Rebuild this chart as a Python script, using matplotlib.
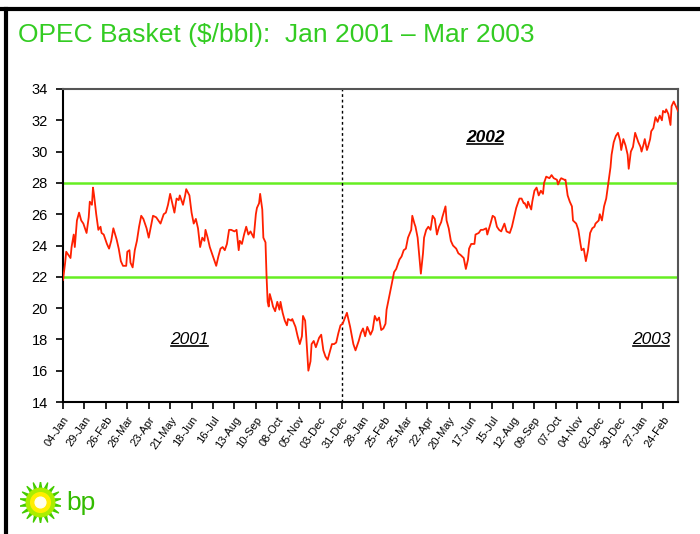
import matplotlib.pyplot as plt
from matplotlib.lines import Line2D

# trading-day index from 04-Jan-2001 and OPEC basket price ($/bbl)
days = [0, 2, 3, 7, 8, 10, 11, 13, 15, 17, 19, 22, 24, 25, 27, 28, 29, 31, 33, 35,
        36, 38, 41, 43, 45, 47, 50, 52, 54, 56, 59, 60, 62, 63, 65, 67, 69, 71, 73, 75,
        78, 80, 82, 84, 87, 89, 91, 94, 96, 98, 100, 102, 104, 106, 108, 109, 112, 114, 115, 118,
        120, 122, 124, 126, 128, 130, 132, 133, 135, 137, 139, 141, 143, 145, 147, 149, 151, 153, 155, 157,
        160, 162, 164, 165, 167, 169, 171, 173, 175, 178, 180, 181, 183, 184, 186, 187, 189, 190, 191, 192,
        193, 195, 196, 198, 200, 202, 203, 205, 207, 209, 210, 213, 214, 217, 219, 221, 223, 224, 226, 227,
        229, 231, 232, 234, 236, 237, 239, 241, 243, 245, 247, 249, 251, 253, 255, 257, 259, 261, 265, 268,
        271, 273, 276, 278, 280, 282, 284, 287, 289, 291, 293, 295, 297, 299, 301, 302, 305, 307, 309, 311,
        314, 316, 318, 320, 322, 325, 326, 328, 329, 331, 333, 334, 336, 337, 339, 341, 343, 345, 347, 349,
        351, 353, 354, 357, 358, 360, 362, 364, 367, 369, 371, 374, 376, 378, 379, 381, 384, 385, 388, 390,
        392, 395, 396, 399, 401, 403, 405, 407, 409, 412, 414, 417, 419, 421, 423, 426, 428, 430, 431, 433,
        434, 437, 438, 440, 442, 444, 446, 448, 449, 451, 454, 456, 458, 461, 462, 464, 465, 468, 469, 471,
        473, 475, 476, 479, 481, 483, 484, 486, 488, 490, 492, 494, 496, 497, 500, 501, 503, 505, 507, 509,
        511, 512, 514, 516, 518, 520, 521, 523, 525, 527, 528, 530, 532, 534, 535, 537, 539, 540, 542, 543,
        545, 546, 548, 549, 551, 553, 555, 557, 559, 560, 562, 563, 565, 567, 568, 570, 572, 574]
price = [21.8, 22.9, 23.6, 23.2, 23.9, 24.7, 23.9, 25.6, 26.1, 25.6, 25.4, 24.8, 25.8, 26.8, 26.6, 27.7, 27.2, 26.0, 25.0, 25.2,
         24.8, 24.7, 24.1, 23.8, 24.3, 25.1, 24.4, 23.8, 23.0, 22.7, 22.7, 23.6, 23.7, 22.9, 22.6, 23.7, 24.3, 25.2, 25.9, 25.7,
         25.1, 24.5, 25.2, 25.9, 25.8, 25.6, 25.4, 26.0, 26.1, 26.6, 27.3, 26.7, 26.1, 27.0, 26.9, 27.2, 26.6, 27.2, 27.6, 27.2,
         26.1, 25.4, 25.7, 25.1, 23.9, 24.5, 24.3, 25.0, 24.5, 23.9, 23.5, 23.1, 22.7, 23.3, 23.8, 23.9, 23.7, 24.1, 25.0, 25.0,
         24.9, 25.0, 23.7, 24.3, 24.1, 24.7, 25.2, 24.7, 24.9, 24.5, 26.0, 26.4, 26.7, 27.3, 26.3, 24.5, 24.2, 22.0, 20.4, 20.1,
         20.9, 20.4, 20.1, 19.8, 20.4, 19.9, 20.4, 19.7, 19.2, 18.9, 19.3, 19.2, 19.3, 18.8, 18.2, 17.7, 18.2, 19.5, 19.2, 18.2,
         16.0, 16.6, 17.7, 17.9, 17.5, 17.7, 18.1, 18.3, 17.3, 16.9, 16.7, 17.2, 17.7, 17.7, 17.8, 18.4, 18.9, 19.0, 19.7, 18.8,
         17.7, 17.3, 17.9, 18.4, 18.7, 18.2, 18.8, 18.3, 18.6, 19.5, 19.2, 19.4, 18.6, 18.7, 19.0, 19.9, 20.9, 21.6, 22.3, 22.5,
         23.1, 23.3, 23.7, 23.8, 24.5, 25.0, 25.9, 25.4, 25.2, 24.5, 23.0, 22.2, 23.5, 24.5, 25.0, 25.2, 25.0, 25.9, 25.7, 24.7,
         25.2, 25.5, 25.8, 26.5, 25.6, 25.1, 24.3, 24.0, 23.8, 23.5, 23.4, 23.2, 22.5, 23.1, 23.8, 24.1, 24.1, 24.7, 24.8, 25.0,
         25.0, 25.1, 24.7, 25.4, 25.9, 25.8, 25.2, 25.0, 24.9, 25.4, 24.9, 24.8, 25.2, 25.8, 26.4, 27.0, 27.0, 26.7, 26.7, 26.4,
         26.8, 26.3, 26.8, 27.5, 27.7, 27.2, 27.5, 27.3, 28.0, 28.4, 28.3, 28.5, 28.3, 28.2, 27.9, 28.2, 28.3, 28.2, 28.2, 27.2,
         26.8, 26.5, 25.6, 25.4, 25.0, 24.1, 23.7, 23.8, 23.0, 23.7, 24.8, 25.1, 25.2, 25.4, 25.6, 26.0, 25.6, 26.5, 27.0, 28.0,
         29.0, 29.8, 30.6, 31.0, 31.2, 30.7, 30.1, 30.8, 30.4, 29.8, 28.9, 30.0, 30.3, 31.2, 31.0, 30.6, 30.3, 30.0, 30.5, 30.8,
         30.1, 30.3, 30.8, 31.3, 31.5, 32.2, 31.9, 32.3, 32.0, 32.6, 32.5, 32.7, 32.4, 31.7, 32.9, 33.2, 32.9, 32.6]

tick_days = list(range(0, 561, 20))
tick_labels = ['04-Jan', '29-Jan', '26-Feb', '26-Mar', '23-Apr', '21-May', '18-Jun', '16-Jul',
               '13-Aug', '10-Sep', '08-Oct', '05-Nov', '03-Dec', '31-Dec', '28-Jan', '25-Feb',
               '25-Mar', '22-Apr', '20-May', '17-Jun', '15-Jul', '12-Aug', '09-Sep', '07-Oct',
               '04-Nov', '02-Dec', '30-Dec', '27-Jan', '24-Feb']
band = [22, 28]
year_end = 260
years = ['2001', '2002', '2003']
year_x = [118, 394, 549]
year_y = [18.0, 30.9, 18.0]

plt.rcParams['font.family'] = ['Liberation Sans', 'DejaVu Sans']

fig = plt.figure(figsize=(7, 5.34), dpi=100)
ax = fig.add_axes([63 / 700, 1 - 402 / 534, 615 / 700, 313 / 534])

ax.plot(days, price, color='#ff2000', lw=1.3, zorder=3)
for b in band:
    ax.axhline(b, color='#66ee22', lw=1.8, zorder=2)
ax.axvline(year_end, color='black', lw=1, ls=(0, (2, 2)), zorder=2)

ax.set_xlim(0, 574)
ax.set_ylim(14, 34)
ax.set_yticks(range(14, 35, 2))
ax.set_xticks(tick_days)
ax.set_xticklabels(tick_labels, rotation=55, ha='right', va='top',
                   rotation_mode='anchor', fontsize=8)
ax.tick_params(axis='y', labelsize=10.5, length=5, width=1.2, pad=6)
ax.tick_params(axis='x', length=5, width=1.2, pad=4)

for s in ['left', 'bottom']:
    ax.spines[s].set_linewidth(1.5)
for s in ['top', 'right']:
    ax.spines[s].set_color('#555555')
    ax.spines[s].set_linewidth(1.5)

# italic underlined year labels
for i, (lab, x0, y0) in enumerate(zip(years, year_x, year_y)):
    ax.text(x0, y0, lab, fontsize=12.5, style='italic', ha='center', va='center',
            fontweight='bold' if i == 1 else 'normal')
    ax.plot([x0 - 17, x0 + 17], [y0 - 0.42, y0 - 0.42], color='black', lw=1.2)

fig.text(18 / 700, 1 - 35 / 534, 'OPEC Basket ($/bbl):  Jan 2001 \u2013 Mar 2003',
         color='#33cc22', fontsize=19, ha='left', va='center')

# border lines
fig.add_artist(Line2D([0, 1], [1 - 9 / 534, 1 - 9 / 534], color='black', lw=3))
fig.add_artist(Line2D([6 / 700, 6 / 700], [0, 1 - 9 / 534], color='black', lw=3))

# bp helios logo
lax = fig.add_axes([20 / 700, 1 - 522 / 534, 40 / 700, 40 / 534])
lax.set_xlim(-1, 1)
lax.set_ylim(-1, 1)
lax.axis('off')
lax.scatter([0], [0], s=900, marker=(18, 1, 0), color='#44cc00')
lax.scatter([0], [0], s=420, marker='o', color='#aaee00')
lax.scatter([0], [0], s=200, marker='o', color='#ffee00')
lax.scatter([0], [0], s=60, marker='o', color='#ffffee')
fig.text(66 / 700, 1 - 503 / 534, 'bp', color='#33bb00', fontsize=19,
         ha='left', va='center')

fig.savefig('out.png', dpi=100, facecolor='white')
